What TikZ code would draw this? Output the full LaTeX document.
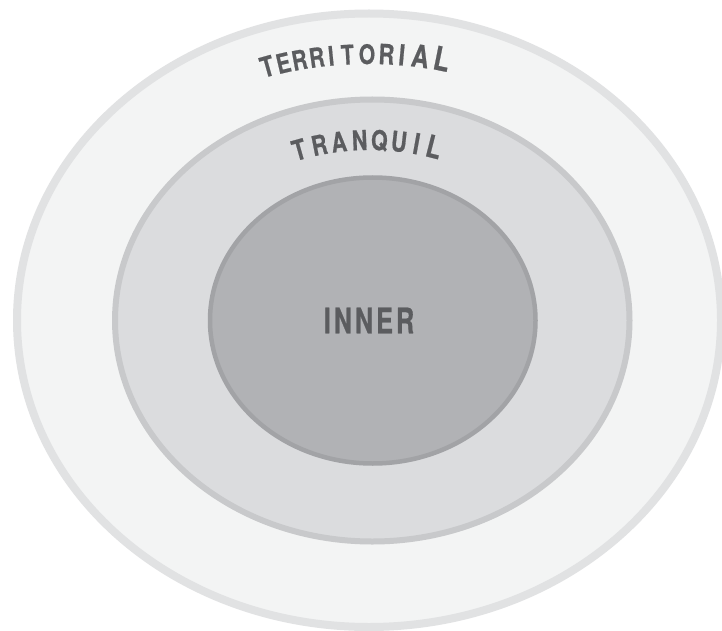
\documentclass[tikz,border=0pt]{standalone}
\usepackage{fontspec}
\newfontfamily\condfont{TeX Gyre Heros}[FakeStretch=0.72,FakeBold=0.6]
\newfontfamily\arcfont{TeX Gyre Heros}[FakeStretch=0.78,FakeBold=0.6]
\definecolor{outerfill}{HTML}{F3F4F4}
\definecolor{outerline}{HTML}{E1E2E3}
\definecolor{midfill}{HTML}{DBDCDE}
\definecolor{midline}{HTML}{C8C9CB}
\definecolor{innerfill}{HTML}{B1B2B5}
\definecolor{innerline}{HTML}{A2A3A6}
\definecolor{labelgray}{HTML}{5B5C5F}
\tikzset{
  ring/.style={line width=#1},
  arcletter/.style={anchor=base, inner sep=0pt, text=labelgray, font=\arcfont\bfseries\fontsize{#1}{#1}\selectfont},
  centerlabel/.style={anchor=center, inner sep=0pt, text=labelgray, font=\condfont\bfseries\fontsize{35}{35}\selectfont}
}
\begin{document}
\begin{tikzpicture}[x=1pt,y=-1pt]
\useasboundingbox (0,0) rectangle (722,631);
\fill[white] (0,0) rectangle (722,631);
% rings
\draw[ring=8pt, draw=outerline, fill=outerfill] (369,320.25) ellipse [x radius=352pt, y radius=306.75pt];
\draw[ring=6pt, draw=midline, fill=midfill] (372.25,320.5) ellipse [x radius=257.25pt, y radius=221pt];
\draw[ring=4.5pt, draw=innerline, fill=innerfill] (372.75,320.5) ellipse [x radius=162.75pt, y radius=143pt];
% centre label
\node[centerlabel] (inner) at (369,320.5) {I\kern3pt N\kern3pt N\kern3pt E\kern3pt R};
% TERRITORIAL along arc
\foreach \ch/\s/\sz [count=\i] in {T/-99/28,E/-83/27,R/-67/27,R/-50/27,I/-36/27,T/-20/27,O/-1/27,R/18/28,I/33/29,A/51/31,L/72/33}{
  \node[arcletter=\sz, rotate={-1*(\s)/360*57.2958}] (terr\i)
    at ({368+400*sin(deg((\s)/400))}, {464-400*cos(deg((\s)/400))}) {\ch};
}
% TRANQUIL along arc
\foreach \ch/\s/\sz [count=\i] in {T/-69/28,R/-49/27.5,A/-30/27.5,N/-10/27.5,Q/9/27.5,U/28/28,I/45/29,L/62/31}{
  \node[arcletter=\sz, rotate={-1*(\s)/250*57.2958}] (tranq\i)
    at ({370+250*sin(deg((\s)/250))}, {400-250*cos(deg((\s)/250))}) {\ch};
}
\end{tikzpicture}
\end{document}
